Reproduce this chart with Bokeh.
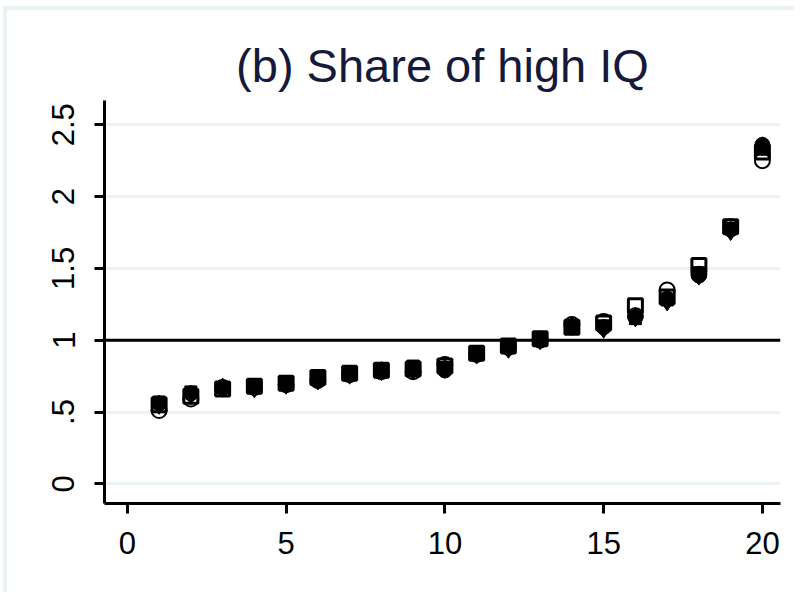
from bokeh.plotting import figure
from bokeh.models import Span, FixedTicker, Range1d
from bokeh.embed import file_html
from bokeh.resources import INLINE

# ---- data ----
decile = list(range(1, 21))
series_circle = [0.56, 0.63, 0.67, 0.68, 0.70, 0.73, 0.77, 0.79, 0.80, 0.79,
                 0.91, 0.96, 1.00, 1.09, 1.09, 1.16, 1.29, 1.45, 1.77, 2.36]
series_square = [0.57, 0.64, 0.67, 0.67, 0.70, 0.74, 0.76, 0.78, 0.82, 0.81,
                 0.90, 0.97, 1.01, 1.10, 1.10, 1.15, 1.28, 1.47, 1.78, 2.33]
series_diamond = [0.55, 0.62, 0.67, 0.665, 0.69, 0.72, 0.76, 0.785, 0.79, 0.80,
                  0.90, 0.94, 1.00, 1.10, 1.08, 1.16, 1.27, 1.45, 1.76, 2.35]
series_hollow_circle = [0.51, 0.59, 0.67, 0.67, 0.69, 0.72, 0.76, 0.78, 0.78, 0.83,
                        0.90, 0.95, 1.00, 1.11, 1.13, 1.17, 1.35, 1.46, 1.79, 2.25]
series_hollow_square = [0.55, 0.61, 0.66, 0.68, 0.70, 0.74, 0.77, 0.79, 0.80, 0.82,
                        0.91, 0.96, 1.01, 1.09, 1.12, 1.24, 1.30, 1.52, 1.79, 2.31]
x_ticks = [0, 5, 10, 15, 20]
y_ticks = [0, 0.5, 1, 1.5, 2, 2.5]
y_tick_labels = ["0", ".5", "1", "1.5", "2", "2.5"]
title_text = "(b) Share of high IQ"
ref_value = 1

FONT = "Liberation Sans"
BAND = "#eaf2f3"

p = figure(width=794, height=592, output_backend="svg", toolbar_location=None,
           x_range=Range1d(-0.72, 20.57), y_range=Range1d(-0.137, 2.669),
           min_border_left=104, min_border_right=14, min_border_top=100,
           min_border_bottom=89)
p.title.text = title_text
p.title.align = "center"
p.title.text_font = FONT
p.title.text_font_style = "normal"
p.title.text_font_size = "47px"
p.title.text_color = "#15193a"
p.title.standoff = 17
p.outline_line_color = None
p.background_fill_color = "white"
p.border_fill_color = None
# thin light frame along the top and left of the graph region
p.styles = {"background-color": "white",
            "box-shadow": f"inset 3px 6px 0 0 white, inset 7px 10px 0 0 {BAND}"}

# grid
p.xgrid.grid_line_color = None
p.ygrid.grid_line_color = BAND
p.ygrid.grid_line_width = 3
p.ygrid.ticker = FixedTicker(ticks=y_ticks)

# axes
for ax in (p.xaxis[0], p.yaxis[0]):
    ax.axis_line_width = 3
    ax.axis_line_color = "black"
    ax.major_tick_line_width = 3
    ax.major_tick_line_color = "black"
    ax.major_tick_out = 10
    ax.major_tick_in = 0
    ax.minor_tick_line_color = None
    ax.major_label_text_font = FONT
    ax.major_label_text_font_size = "31px"
    ax.major_label_text_color = "black"
p.xaxis.ticker = FixedTicker(ticks=x_ticks)
p.yaxis.ticker = FixedTicker(ticks=y_ticks)
p.yaxis.major_label_overrides = {t: l for t, l in zip(y_ticks, y_tick_labels)}
p.xaxis.major_label_overrides = {t: str(t) for t in x_ticks}
p.yaxis.major_label_orientation = "vertical"
p.xaxis.major_label_standoff = 18
p.yaxis.major_label_standoff = 20

# reference line
p.add_layout(Span(location=ref_value, dimension="width", line_color="black", line_width=3))

# markers
p.scatter(decile, series_hollow_circle, marker="circle", size=15,
          fill_color=None, line_color="black", line_width=2)
p.scatter(decile, series_hollow_square, marker="square", size=14,
          fill_color=None, line_color="black", line_width=3)
p.scatter(decile, series_diamond, marker="diamond", size=19,
          fill_color="black", line_color="black")
p.scatter(decile, series_square, marker="square", size=12,
          fill_color="black", line_color="black")
p.scatter(decile, series_circle, marker="circle", size=15,
          fill_color="black", line_color="black")

open("out.html", "w").write(file_html(p, INLINE))
